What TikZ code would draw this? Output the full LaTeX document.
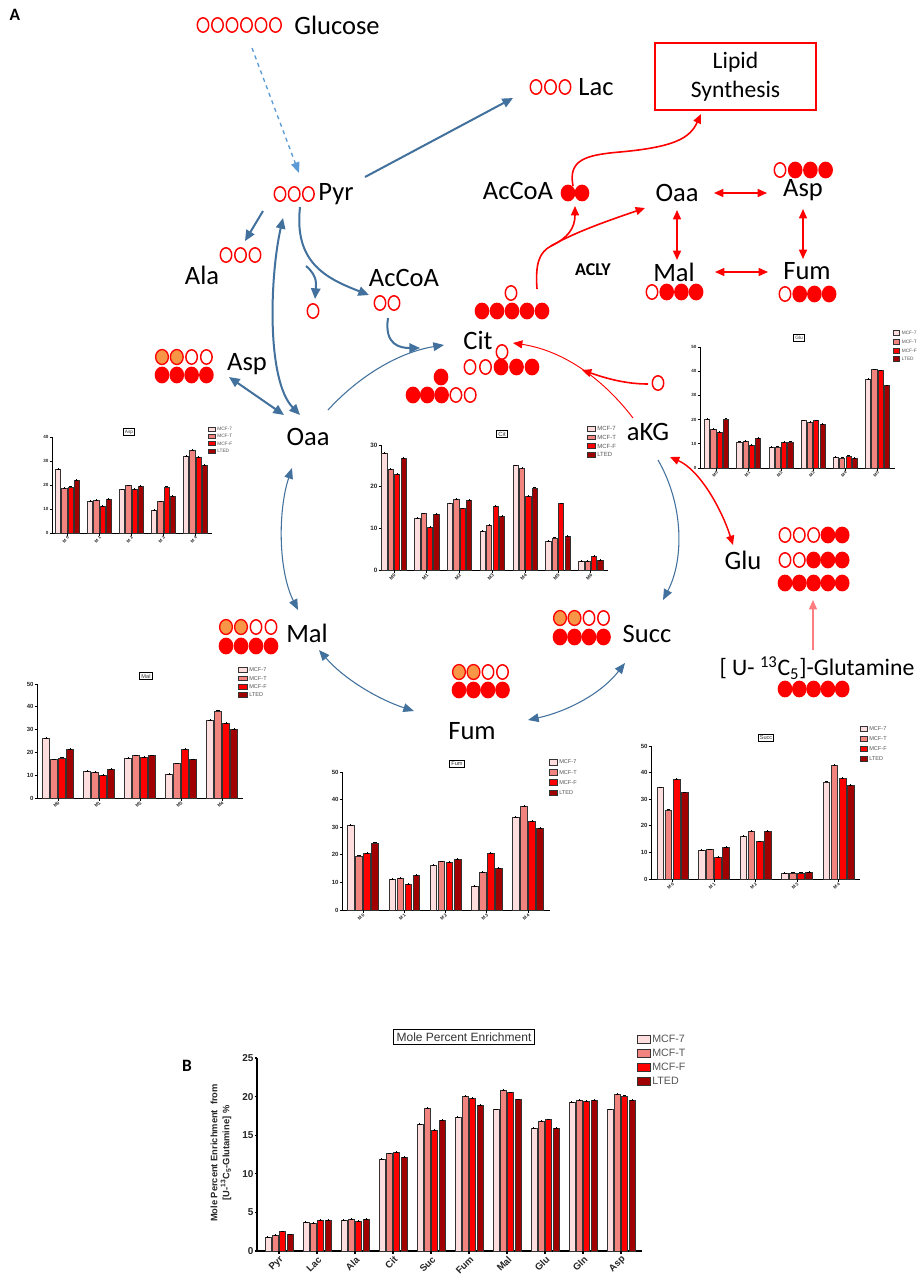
\documentclass[tikz,border=0pt]{standalone}
\usepackage{fontspec}
\setmainfont{Carlito}
\newfontfamily\chartfont{Liberation Sans}
\usetikzlibrary{arrows.meta}

\definecolor{serA}{HTML}{FDDDDD}
\definecolor{serB}{HTML}{F2847F}
\definecolor{serC}{HTML}{FF0000}
\definecolor{serD}{HTML}{A00000}
\definecolor{pathblue}{HTML}{41719C}
\definecolor{lightblue}{HTML}{5B9BD5}
\definecolor{labelorange}{HTML}{F79646}
\definecolor{palered}{HTML}{FF7C80}
\definecolor{legendgray}{HTML}{555555}
\definecolor{barframe}{HTML}{333333}

% carbon atoms: open, filled, orange
\newcommand\carbono[2]{\draw[red, line width=1.1pt, fill=white] (#1,#2) ellipse [x radius=4.3pt, y radius=5.4pt];}
\newcommand\carbonf[2]{\fill[red] (#1,#2) ellipse [x radius=5.5pt, y radius=6.3pt];}
\newcommand\carbong[2]{\draw[red, line width=1pt, fill=labelorange] (#1,#2) ellipse [x radius=4.8pt, y radius=5.6pt];}
\newcommand\carbonrow[4]{\foreach \t [count=\i from 0] in {#4} {\csname carbon\t\endcsname{#1+\i*#3}{#2}}}

% bar chart helpers
\newcommand\chartsetup[7]{\def\Cn{#1}\def\Cx{#2}\def\Cy{#3}\def\Cu{#4}\def\Cl{#5}\def\Cs{#6}\def\Cp{#7}}
\newcommand\chartfonts[3]{\def\Ctf{#1}\def\Clf{#2}\def\Cxf{#3}}
\def\Caw{0.6pt}
\newcommand\chartaxis[2]{%
  \draw[axisline] (\Cx,{\Cy-#2*\Cu}) -- (\Cx,\Cy) -- ({\Cx+\Cl},\Cy);
  \foreach \t [count=\k] in {#1} {
    \draw[axisline] ({\Cx-2.5},{\Cy-\t*\Cu}) -- (\Cx,{\Cy-\t*\Cu});
    \node[ticklab] (\Cn t\k) at ({\Cx-2.5},{\Cy-\t*\Cu}) {\t};
  }}
\newcommand\chartbars[1]{%
  \foreach \va/\vb/\vc/\vd [count=\i from 0] in {#1} {
    \pgfmathsetmacro\gx{\Cx+\Cp+\i*\Cs}
    \foreach \hv/\col [count=\j from 0] in {\va/serA,\vb/serB,\vc/serC,\vd/serD} {
      \pgfmathsetmacro\bx{\gx+(\j-1.5)*0.195*\Cs}
      \pgfmathsetmacro\hw{0.08*\Cs}
      \pgfmathsetmacro\btop{\Cy-\hv*\Cu}
      \draw[barline, fill=\col] ({\bx-\hw},\Cy) rectangle ({\bx+\hw},\btop);
      \draw[errbar] ({\bx-0.55*\hw},\btop) -- ({\bx+0.55*\hw},\btop);
      \draw[errbar] (\bx,\btop) -- (\bx,{\btop-1.2});
    }
    \draw[axisline] (\gx,\Cy) -- (\gx,{\Cy+2.5});
  }}
\newcommand\chartxlabels[3]{%
  \foreach \l [count=\k from 0] in {#1} {
    \node[xlab] (\Cn x\k) at ({\Cx+\Cp+\k*\Cs+#2},{\Cy+#3}) {\l};
  }}
\newcommand\chartlegend[4]{%
  \foreach \col/\txt [count=\k from 0] in {serA/MCF-7,serB/MCF-T,serC/MCF-F,serD/LTED} {
    \draw[barline, fill=\col] (#1,{#2+\k*#3-0.28*#3}) rectangle ({#1+#4},{#2+\k*#3+0.28*#3});
    \node[leglab] (\Cn l\k) at ({#1+#4+2},{#2+\k*#3}) {\txt};
  }}

\tikzset{
  lab/.style={font=\fontsize{19.9}{22}\selectfont, inner sep=0pt},
  bluearrow/.style={draw=pathblue, line width=1.5pt, -{Triangle[length=8pt,width=7pt]}},
  bluetwo/.style={draw=pathblue, line width=1.5pt, {Triangle[length=8pt,width=7pt]}-{Triangle[length=8pt,width=7pt]}},
  cyclearrow/.style={draw=pathblue, line width=0.8pt, -{Triangle[length=8pt,width=6.5pt]}},
  cycletwo/.style={draw=pathblue, line width=0.8pt, {Triangle[length=8pt,width=6.5pt]}-{Triangle[length=8pt,width=6.5pt]}},
  redarrow/.style={draw=red, line width=1.2pt, -{Triangle[length=7pt,width=6pt]}},
  redtwo/.style={draw=red, line width=1.1pt, {Triangle[length=7pt,width=6pt]}-{Triangle[length=7pt,width=6pt]}},
  axisline/.style={line width=\Caw, black},
  barline/.style={line width=0.5pt, draw=barframe},
  errbar/.style={line width=0.7pt, black},
  ticklab/.style={font=\chartfont\bfseries\fontsize{\Ctf}{\Ctf}\selectfont, inner sep=0.6pt, anchor=east, text=black!85},
  leglab/.style={font=\chartfont\fontsize{\Clf}{\Clf}\selectfont, text=legendgray, inner sep=0pt, anchor=west},
  xlab/.style={font=\chartfont\bfseries\fontsize{\Cxf}{\Cxf}\selectfont, inner sep=0pt, anchor=east, rotate=45, text=black!85},
  ctitle/.style={draw, line width=0.7pt, font=\chartfont\fontsize{\Clf}{\Clf}\selectfont, inner sep=1.2pt, text=black!80},
  panel/.style={font=\fontsize{13}{13}\selectfont\bfseries, inner sep=0pt}
}

\begin{document}
\begin{tikzpicture}[x=0.75pt,y=-0.75pt]
\useasboundingbox (0,0) rectangle (919,1278);
\fill[white] (0,0) rectangle (919,1278);

% ---------------- panel letters
\node[panel] (pA) at (15,15) {A};
\node[panel] (pB) at (187,1066) {B};

% ---------------- metabolite labels
\node[lab] (glc) at (337,25) {Glucose};
\node[lab] (pyr) at (336,194) {Pyr};
\node[lab] (ala) at (202,275) {Ala};
\node[lab] (accoaB) at (404,278) {AcCoA};
\node[lab] (lac) at (596,87) {Lac};
\node[lab] (accoaR) at (518,191) {AcCoA};
\node[lab] (oaaR) at (677,193) {Oaa};
\node[lab] (aspR) at (803,190) {Asp};
\node[lab] (malR) at (674,272) {Mal};
\node[lab] (fumR) at (807,271) {Fum};
\node[font=\fontsize{13.5}{14}\selectfont\bfseries, inner sep=0pt] (acly) at (593,270) {ACLY};
\node[lab] (cit) at (478,340) {Cit};
\node[lab] (akg) at (648,432) {aKG};
\node[lab] (oaa) at (308,437) {Oaa};
\node[lab] (asp) at (247,364) {Asp};
\node[lab] (mal) at (307,633) {Mal};
\node[lab] (succ) at (647,634) {Succ};
\node[lab] (fum) at (472,731) {Fum};
\node[lab] (glu) at (743,560) {Glu};
\node[font=\fontsize{17.8}{20}\selectfont, inner sep=0pt] (gln) at (817,668) {{[} U- \textsuperscript{13}C\textsubscript{5}]-Glutamine};
\node[draw=red, line width=1.1pt, minimum width=120.75pt, minimum height=50.25pt, align=center,
      font=\fontsize{17.7}{21.75}\selectfont] (lipid) at (735.5,76.5) {Lipid\\Synthesis};

% ---------------- carbon labelling patterns
\carbonrow{203}{25}{14.5}{o,o,o,o,o,o}
\carbonrow{280}{194}{14.2}{o,o,o}
\carbonrow{226}{255}{14.5}{o,o,o}
\carbonrow{536}{87}{14.5}{o,o,o}
\carbonrow{380}{303}{14}{o,o}
\carbono{313}{311}
\carbonrow{568}{193}{14}{f,f}
\carbonrow{780}{170}{15.2}{o,f,f,f}
\carbonrow{652}{292}{14.7}{o,f,f,f}
\carbonrow{785}{294}{14.7}{o,f,f,f}
\carbono{511}{293}
\carbonrow{482}{311}{15}{f,f,f,f,f}
\carbono{502}{352}
\carbonrow{470}{367}{15.5}{o,o,f,f,f}
\carbonf{441}{377}
\carbonrow{413}{395}{14.3}{f,f,f,o,o}
\carbono{658}{383}
\carbonrow{162}{357}{14.8}{g,g,o,o}
\carbonrow{162}{375}{14.8}{f,f,f,f}
\carbonrow{226}{627}{15}{g,g,o,o}
\carbonrow{226}{646}{15}{f,f,f,f}
\carbonrow{459}{672}{14.5}{g,g,o,o}
\carbonrow{459}{690}{14.5}{f,f,f,f}
\carbonrow{560}{618}{14.5}{g,g,o,o}
\carbonrow{560}{637}{14.5}{f,f,f,f}
\carbonrow{785}{535}{14.3}{o,o,o,f,f}
\carbonrow{785}{560}{14.3}{o,o,f,f,f}
\carbonrow{785}{583}{14.3}{f,f,f,f,f}
\carbonrow{785}{689}{14.3}{f,f,f,f,f}

% ---------------- connector end points
\coordinate (glcOut) at (252,48);
\coordinate (pyrIn) at (299,173);
\coordinate (pyrE) at (365,177);
\coordinate (lacIn) at (513,98);
\coordinate (pyrSW) at (263,211);
\coordinate (alaIn) at (245,241);
\coordinate (pyrS) at (283,218);
\coordinate (oaaN) at (300,415);
\coordinate (aspSE) at (229,377);
\coordinate (oaaNW) at (284,415);
\coordinate (pyrBot) at (300,207);
\coordinate (split) at (306,266);
\coordinate (coIn) at (315,299);
\coordinate (accoaIn) at (369,295);
\coordinate (accoaOut) at (388,318);
\coordinate (citW1) at (420,348);
\coordinate (oaaNE) at (328,410);
\coordinate (citW2) at (444,345);
\coordinate (akgS) at (658,460);
\coordinate (succN) at (663,600);
\coordinate (succSW) at (625,663);
\coordinate (fumE) at (528,720);
\coordinate (malSE) at (319,650);
\coordinate (fumW) at (414,711);
\coordinate (oaaS) at (292,468);
\coordinate (malN) at (298,610);
\coordinate (citTop) at (537,289);
\coordinate (branch) at (551,246);
\coordinate (accoaRIn) at (575,206);
\coordinate (oaaRIn) at (645,208);
\coordinate (accoaRTop) at (573,186);
\coordinate (lipidIn) at (701,114);
\coordinate (akgNW) at (633,418);
\coordinate (citE) at (513,343);
\coordinate (coOut) at (648,384);
\coordinate (joinPt) at (582,370);
\coordinate (akgSE) at (670,457);
\coordinate (gluN) at (733,545);
\coordinate (glnTop) at (813,650);
\coordinate (gluBot) at (813,600);

% ---------------- glycolysis / entry connectors (blue)
\draw[draw=lightblue, line width=1pt, dashed, -{Triangle[length=8pt,width=6.5pt]}] (glcOut) -- (pyrIn);
\draw[bluearrow] (pyrE) -- (lacIn);
\draw[bluearrow] (pyrSW) -- (alaIn);
\draw[bluetwo] (pyrS) .. controls (270,275) and (266,380) .. (oaaN);
\draw[bluetwo] (aspSE) -- (oaaNW);
\draw[bluearrow] (pyrBot) .. controls (294,262) and (325,278) .. (accoaIn);
\draw[bluearrow] (split) .. controls (318,276) and (316,285) .. (coIn);
\draw[bluearrow] (accoaOut) .. controls (384,345) and (400,348) .. (citW1);

% ---------------- TCA cycle arcs (thin blue)
\draw[cyclearrow] (oaaNE) .. controls (360,375) and (400,352) .. (citW2);
\draw[cyclearrow] (akgS) .. controls (684,505) and (684,560) .. (succN);
\draw[cycletwo] (succSW) .. controls (600,695) and (565,712) .. (fumE);
\draw[cycletwo] (malSE) .. controls (345,680) and (380,700) .. (fumW);
\draw[cycletwo] (oaaS) .. controls (278,510) and (278,570) .. (malN);

% ---------------- reductive / glutamine connectors (red)
\draw[redarrow] (citTop) .. controls (535,262) and (540,252) .. (branch) .. controls (568,238) and (575,228) .. (accoaRIn);
\draw[redarrow] (branch) .. controls (575,232) and (610,220) .. (oaaRIn);
\draw[redarrow] (accoaRTop) .. controls (568,160) and (585,155) .. (620,152) .. controls (675,147) and (690,138) .. (lipidIn);
\draw[redtwo] (714,193) -- (767,193);
\draw[redtwo] (677,210) -- (677,260);
\draw[redtwo] (715,272) -- (768,272);
\draw[redtwo] (803,209) -- (803,259);
\draw[draw=red, line width=0.7pt, -{Triangle[length=7pt,width=6pt]}] (akgNW) .. controls (600,375) and (560,350) .. (citE);
\draw[redarrow] (coOut) .. controls (625,384) and (605,378) .. (joinPt);
\draw[redtwo] (akgSE) .. controls (700,470) and (722,510) .. (gluN);
\draw[draw=palered, line width=0.9pt, -{Triangle[length=7pt,width=6pt]}] (glnTop) -- (gluBot);

% ---------------- Asp isotopologue chart
\chartsetup{asp}{52}{533}{2.4}{160}{32}{15.5}
\chartfonts{3.4}{3.6}{3.2}
\chartaxis{0,10,20,30,40}{40}
\chartbars{26.5/18.5/19.2/22, 13.3/13.5/11/14, 18/19.7/18.3/19.3, 9.5/13/19.2/15.3, 31.8/34.5/31.5/28.3}
\chartxlabels{M 0,M 1,M 2,M 3,M 4}{1}{4}
\node[ctitle] (aspT) at (129,432) {Asp};
\chartlegend{208}{429}{7.3}{7}

% ---------------- Cit isotopologue chart
\chartsetup{cit}{381}{570}{4.17}{227}{32.8}{13}
\chartfonts{4.7}{4.5}{3.6}
\chartaxis{0,10,20,30}{30}
\chartbars{28/24.2/23/26.7, 12.4/13.5/10.3/13.3, 15.9/16.9/14.7/16.7, 9.3/10.7/15.2/12.9, 25/24.4/17.6/19.7, 6.8/7.7/15.9/8.1, 2.1/2.1/3.2/2.4}
\chartxlabels{M0,M1,M2,M3,M4,M5,M6}{1}{4}
\node[ctitle] (citT) at (502,434) {Cit};
\chartlegend{587}{428.5}{8.8}{8}

% ---------------- Glu isotopologue chart
\chartsetup{glu}{700}{468}{2.42}{195}{32.2}{16.5}
\chartfonts{3.4}{3.6}{3.2}
\chartaxis{0,10,20,30,40,50}{50}
\chartbars{20/16/14.7/20.3, 10.8/11/9.3/12.4, 8.5/8.7/10.5/10.8, 19.5/18.8/19.5/18, 4.5/4.2/5/4.1, 36.5/40.6/40.2/34}
\chartxlabels{M0,M1,M2,M3,M4,M5}{1}{4}
\node[ctitle] (gluT) at (799,338) {Glu};
\chartlegend{893}{333}{8.7}{6.5}

% ---------------- Mal isotopologue chart
\chartsetup{mal}{37}{798}{2.28}{206}{41}{21}
\chartfonts{4.5}{4.2}{3.4}
\chartaxis{0,10,20,30,40,50}{50}
\chartbars{26.3/16.8/17.6/21.5, 11.7/11.4/9.8/12.6, 17.3/18.5/17.9/18.5, 10.3/15/21.5/16.8, 34/38.2/32.7/30.2}
\chartxlabels{M0,M1,M2,M3,M4}{1}{4}
\node[ctitle] (malT) at (146,676) {Mal};
\chartlegend{238}{670}{8.3}{9}

% ---------------- Fum isotopologue chart
\chartsetup{fum}{342}{910}{2.76}{208}{41.25}{21}
\chartfonts{4.5}{4.2}{3.4}
\chartaxis{0,10,20,30,40,50}{50}
\chartbars{30.6/19.6/20.6/24.3, 11/11.4/9.2/12.5, 16.2/17.5/17.2/18.4, 8.7/13.7/20.5/15.1, 33.5/37.5/32/29.5}
\chartxlabels{M 0,M 1,M 2,M 3,M 4}{1}{4}
\node[ctitle] (fumT) at (457,764) {Fum};
\chartlegend{549}{762}{10.3}{8}

% ---------------- Succ isotopologue chart
\chartsetup{succ}{651}{879}{2.66}{209}{41.5}{21.5}
\chartfonts{4.5}{4.2}{3.4}
\chartaxis{0,10,20,30,40,50}{50}
\chartbars{34.3/26/37.5/32.4, 10.8/11/8.2/12, 16.1/17.8/14/17.8, 2/2.3/2.3/2.6, 36.5/42.8/37.8/35.3}
\chartxlabels{M 0,M 1,M 2,M 3,M 4}{1}{4}
\node[ctitle] (succT) at (766,738) {Succ};
\chartlegend{860}{729}{10}{7}

% ---------------- panel B: mole percent enrichment
\def\Caw{1pt}
\chartsetup{mpe}{257}{1251}{7.72}{385}{38}{22}
\chartfonts{7.5}{8}{7.2}
\chartaxis{0,5,10,15,20,25}{25}
\chartbars{1.8/2.0/2.5/2.1, 3.7/3.6/4.0/4.0, 4.0/4.1/3.8/4.1, 11.9/12.6/12.8/12.1, 16.4/18.5/15.6/16.9, 17.3/20.0/19.8/18.9, 18.3/20.8/20.5/19.6, 15.9/16.8/17.0/15.9, 19.3/19.5/19.4/19.5, 18.3/20.3/20.1/19.5}
\chartxlabels{Pyr,Lac,Ala,Cit,Suc,Fum,Mal,Glu,Gln,Asp}{3}{7}
\node[draw, line width=0.9pt, font=\chartfont\fontsize{9}{9}\selectfont, inner sep=2.2pt, text=black!80] (mpeT) at (464,1037) {Mole Percent Enrichment};
\chartlegend{637}{1039}{14}{13}
\node[rotate=90, align=center, font=\chartfont\bfseries\fontsize{7}{9}\selectfont, inner sep=0pt, text=black!85] (mpeY) at (221,1153)
  {Mole Percent Enrichment~~from\\{[}U-\textsuperscript{13}C\textsubscript{5}-Glutamine{]} \%};

\end{tikzpicture}
\end{document}
